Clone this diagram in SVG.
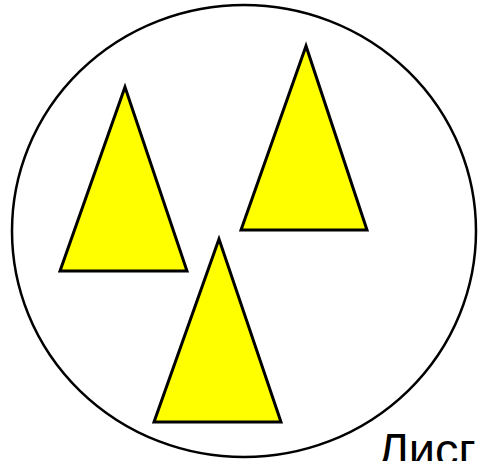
<svg xmlns="http://www.w3.org/2000/svg" width="478" height="461" viewBox="0 0 478 461">
<style>
.tri{fill:#ffff00;stroke:#000;stroke-width:3;stroke-linejoin:miter}
.circ{fill:#fff;stroke:#000;stroke-width:2.5}
.lbl{font-family:"Liberation Sans",Arial,sans-serif;font-size:47px;fill:#000}
</style>
<rect width="478" height="461" fill="#fff"/>
<g id="circle"><ellipse class="circ" cx="244" cy="231" rx="232" ry="226"/></g>
<g id="triangle1"><polygon class="tri" points="125,87 60,271 187,271"/></g>
<g id="triangle2"><polygon class="tri" points="306,46 241,230 367,230"/></g>
<g id="triangle3"><polygon class="tri" points="219,239 154,422 281,422"/></g>
<g id="label"><text class="lbl" x="378" y="466">Лисг</text></g>
</svg>
